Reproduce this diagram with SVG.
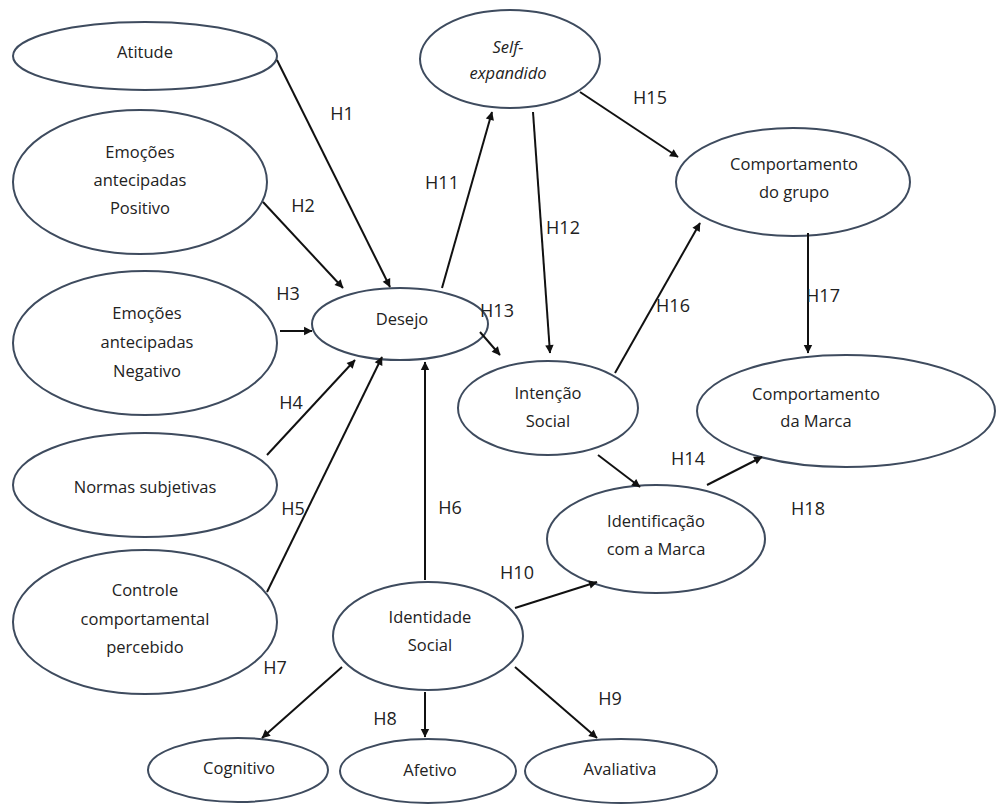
<svg xmlns="http://www.w3.org/2000/svg" width="997" height="805" viewBox="0 0 997 805">
<style>
.n ellipse{fill:#fff;stroke:#3e4b5e;stroke-width:2}
text{font-family:"Open Sans","Noto Sans",sans-serif;font-size:16.5px;fill:#222;text-anchor:middle;dominant-baseline:central}
.lbl text{font-size:18px}
.c line{stroke:#111;stroke-width:2;marker-end:url(#ah)}
</style>
<defs>
<marker id="ah" viewBox="0 0 10 10" refX="9" refY="5" markerWidth="6" markerHeight="6" orient="auto" markerUnits="userSpaceOnUse" style="overflow:visible">
<path d="M0,0 L10,5 L0,10 z" fill="#111" transform="scale(1.4) translate(-3,-1.4)"/>
</marker>
</defs>
<rect width="997" height="805" fill="#fff"/>
<g id="atitude" class="n"><ellipse cx="145" cy="56" rx="132" ry="34"/><text x="145" y="51">Atitude</text></g>
<g id="emocoes-positivo" class="n"><ellipse cx="140" cy="182" rx="127" ry="72"/><text x="140" y="151">Emoções</text><text x="140" y="179">antecipadas</text><text x="140" y="207">Positivo</text></g>
<g id="emocoes-negativo" class="n"><ellipse cx="145" cy="343" rx="132" ry="72"/><text x="147" y="312">Emoções</text><text x="147" y="341">antecipadas</text><text x="147" y="370">Negativo</text></g>
<g id="desejo" class="n"><ellipse cx="400" cy="324" rx="88" ry="36"/><text x="402" y="318">Desejo</text></g>
<g id="normas" class="n"><ellipse cx="145" cy="485" rx="132" ry="52"/><text x="145" y="486">Normas subjetivas</text></g>
<g id="controle" class="n"><ellipse cx="145" cy="622" rx="132" ry="72"/><text x="145" y="589">Controle</text><text x="145" y="618">comportamental</text><text x="145" y="646">percebido</text></g>
<g id="identidade" class="n"><ellipse cx="428" cy="636" rx="95" ry="54"/><text x="430" y="616">Identidade</text><text x="430" y="644">Social</text></g>
<g id="cognitivo" class="n"><ellipse cx="238" cy="770" rx="90" ry="32"/><text x="239" y="767">Cognitivo</text></g>
<g id="afetivo" class="n"><ellipse cx="428" cy="771" rx="88" ry="32"/><text x="430" y="769">Afetivo</text></g>
<g id="avaliativa" class="n"><ellipse cx="621" cy="771" rx="96" ry="32"/><text x="620" y="768">Avaliativa</text></g>
<g id="self" class="n"><ellipse cx="510" cy="59" rx="90" ry="49"/><text x="508" y="46" font-style="italic">Self-</text><text x="508" y="72" font-style="italic">expandido</text></g>
<g id="grupo" class="n"><ellipse cx="793" cy="182" rx="117" ry="54"/><text x="794" y="163">Comportamento</text><text x="794" y="191">do grupo</text></g>
<g id="intencao" class="n"><ellipse cx="548" cy="408" rx="90" ry="47"/><text x="548" y="392">Intenção</text><text x="548" y="420">Social</text></g>
<g id="marca" class="n"><ellipse cx="846" cy="411" rx="149" ry="56"/><text x="816" y="393">Comportamento</text><text x="816" y="420">da Marca</text></g>
<g id="identificacao" class="n"><ellipse cx="656" cy="539" rx="109" ry="54"/><text x="656" y="520">Identificação</text><text x="656" y="548">com a Marca</text></g>
<g id="connectors" class="c">
<line x1="277" y1="60" x2="390" y2="287"/>
<line x1="263" y1="202" x2="343" y2="288"/>
<line x1="280" y1="331" x2="312" y2="331"/>
<line x1="267" y1="455" x2="355" y2="360"/>
<line x1="267" y1="592" x2="382" y2="357"/>
<line x1="425" y1="580" x2="425" y2="362"/>
<line x1="442" y1="288" x2="492" y2="112"/>
<line x1="533" y1="112" x2="550" y2="353"/>
<line x1="480" y1="332" x2="500" y2="355"/>
<line x1="580" y1="92" x2="678" y2="157"/>
<line x1="615" y1="373" x2="700" y2="223"/>
<line x1="808" y1="233" x2="808" y2="353"/>
<line x1="598" y1="455" x2="640" y2="487"/>
<line x1="707" y1="485" x2="762" y2="457"/>
<line x1="515" y1="608" x2="597" y2="582"/>
<line x1="515" y1="667" x2="597" y2="738"/>
<line x1="342" y1="667" x2="262" y2="738"/>
<line x1="425" y1="692" x2="425" y2="737"/>
</g>
<g id="labels" class="lbl">
<text x="342" y="113">H1</text>
<text x="303" y="205">H2</text>
<text x="288" y="293">H3</text>
<text x="291" y="402">H4</text>
<text x="293" y="508">H5</text>
<text x="450" y="507">H6</text>
<text x="275" y="667">H7</text>
<text x="385" y="718">H8</text>
<text x="610" y="698">H9</text>
<text x="517" y="572">H10</text>
<text x="442" y="182">H11</text>
<text x="563" y="227">H12</text>
<text x="497" y="310">H13</text>
<text x="688" y="458">H14</text>
<text x="650" y="97">H15</text>
<text x="673" y="305">H16</text>
<text x="823" y="295">H17</text>
<text x="808" y="508">H18</text>
</g>
</svg>
